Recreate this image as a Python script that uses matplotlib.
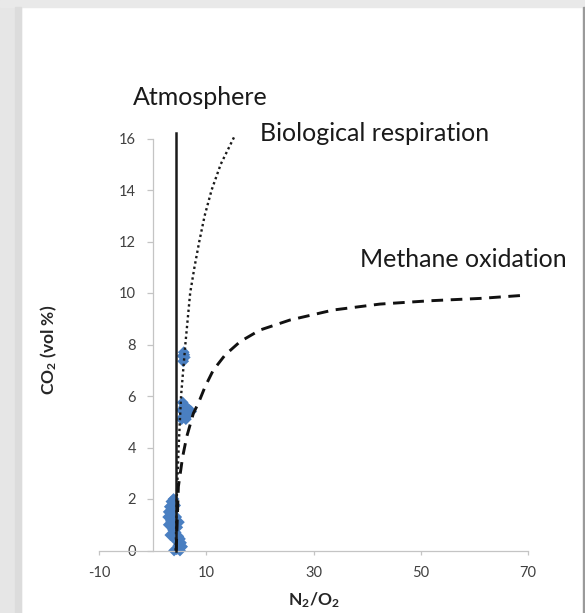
import matplotlib
matplotlib.use('Agg')
import matplotlib.pyplot as plt
from matplotlib.patches import Rectangle

plt.rcParams['font.family'] = ['Lato', 'DejaVu Sans']
plt.rcParams['mathtext.default'] = 'regular'
plt.rcParams['axes.unicode_minus'] = False

# Atmosphere line (N2/O2 of air)
atm_x = [4.4, 4.4]
atm_y = [0, 16.2]

# Biological respiration (dotted curve)
bio_x = [4.3, 4.5, 4.85, 5.3, 6.1, 7.0, 7.8, 8.7, 9.7, 11.0, 12.7, 15.3]
bio_y = [0.0, 2.0, 4.0, 6.0, 8.0, 10.0, 11.0, 12.0, 13.0, 14.0, 15.0, 16.1]

# Methane oxidation (dashed curve)
meth_x = [4.4, 4.8, 5.6, 6.36, 7.6, 8.53, 9.78, 11.3, 13.5, 16.3, 20.0, 25.6,
          33.7, 42.4, 51.8, 61.1, 68.5]
meth_y = [0.0, 2.48, 3.64, 4.42, 5.33, 5.72, 6.36, 7.0, 7.59, 8.11, 8.56, 8.95,
          9.34, 9.57, 9.7, 9.79, 9.9]

# measured samples
samp_x = [3.9, 3.5, 3.2, 4.2, 3.0, 3.6, 2.9, 3.4, 3.0, 3.6, 4.6, 3.8, 4.3, 4.8, 5.1,
          4.3, 5.3, 4.8, 5.5, 4.5, 5.1, 4.0, 4.4, 3.9, 3.3, 4.9,
          5.6, 5.9, 6.4, 5.4, 6.9, 6.1, 7.2, 5.7, 6.5, 5.4, 6.2,
          5.8, 5.6, 6.0, 5.7, 5.9]
samp_y = [2.0, 1.9, 1.7, 1.75, 1.5, 1.45, 1.3, 1.15, 1.0, 0.95, 0.9, 0.8, 0.7, 0.55, 0.45,
          0.4, 0.3, 0.2, 0.15, 0.05, 0.0, 0.0, 1.3, 1.6, 0.6, 1.1,
          5.75, 5.6, 5.55, 5.45, 5.45, 5.35, 5.4, 5.2, 5.25, 5.1, 5.1,
          7.7, 7.55, 7.5, 7.35, 7.6]

x_ticks = [-10, 10, 30, 50, 70]
y_ticks = [0, 2, 4, 6, 8, 10, 12, 14, 16]

W, H = 585, 613
fig = plt.figure(figsize=(W / 100, H / 100), dpi=100)

# slide frame
fig.patches.append(Rectangle((0, 0), 21 / W, 1, transform=fig.transFigure,
                             color='#e6e6e6', zorder=-5))
fig.patches.append(Rectangle((0, 1 - 7 / H), 1, 7 / H, transform=fig.transFigure,
                             color='#e9e9e9', zorder=-5))
fig.patches.append(Rectangle((15 / W, 0), 6 / W, 1 - 7 / H, transform=fig.transFigure,
                             color='#dcdcdc', zorder=-4))
fig.patches.append(Rectangle((583 / W, 0), 2 / W, 1 - 7 / H, transform=fig.transFigure,
                             color='#9a9a9a', zorder=-4))

ax = fig.add_axes([99 / W, 1 - 550.5 / H, 429 / W, 437.75 / H])
ax.set_xlim(-10, 70)
ax.set_ylim(0, 17)
ax.patch.set_alpha(0)

ax.plot(atm_x, atm_y, color='#1a1a1a', lw=1.8, zorder=3, clip_on=False)
ax.plot(bio_x, bio_y, color='#1a1a1a', lw=1.7, ls=(0, (1, 1.3)), zorder=3, clip_on=False)
ax.plot(meth_x, meth_y, color='#111111', lw=2.1, ls=(0, (4.0, 2.6)), zorder=3, clip_on=False)
ax.scatter(samp_x, samp_y, marker='D', s=36, color='#4a7fc1', edgecolors='none',
           zorder=2, clip_on=False)

for s in ['top', 'right']:
    ax.spines[s].set_visible(False)
ax.spines['left'].set_position(('data', 0))
ax.spines['left'].set_bounds(0, 16)
ax.spines['bottom'].set_bounds(-10, 70)
for s in ['left', 'bottom']:
    ax.spines[s].set_color('#c4c4c4')
    ax.spines[s].set_linewidth(0.9)

ax.set_xticks(x_ticks)
ax.set_yticks(y_ticks)
ax.tick_params(axis='y', direction='out', length=4, width=0.9, color='#c4c4c4',
               pad=8, labelsize=10.5, labelcolor='#404040')
ax.tick_params(axis='x', direction='out', length=3, width=0.9, color='#c4c4c4',
               pad=8, labelsize=10.5, labelcolor='#404040')

ax.set_xlabel('N$_2$/O$_2$', fontsize=12.5, fontweight='bold', color='#262626')
ax.xaxis.set_label_coords(0.5, -0.114)
ax.xaxis.label.set_va('center')
ax.set_ylabel('CO$_2$ (vol %)', fontsize=12.5, fontweight='bold', color='#262626')
ax.yaxis.set_label_coords(-0.1166, 0.458)
ax.yaxis.label.set_va('center')

ax.text(8.84, 17.6, 'Atmosphere', fontsize=18, ha='center', va='center', color='#1a1a1a')
ax.text(41.3, 16.2, 'Biological respiration', fontsize=18, ha='center', va='center',
        color='#1a1a1a')
ax.text(57.9, 11.3, 'Methane oxidation', fontsize=18, ha='center', va='center',
        color='#1a1a1a')

fig.savefig('out.png', dpi=100)
